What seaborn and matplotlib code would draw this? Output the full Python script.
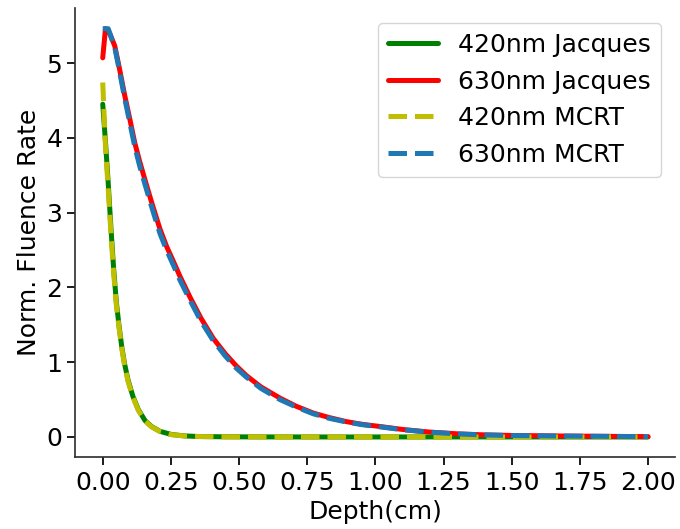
import numpy as np
import pandas as pd
import matplotlib
matplotlib.use("Agg")
import matplotlib.pyplot as plt
import seaborn as sns

# Normalised fluence rate vs depth, Jacques analytic model and MCRT simulation
depth_420_jacques = [0.000, 0.010, 0.020, 0.030, 0.040, 0.050, 0.060, 0.070, 0.080, 0.093,
                     0.110, 0.130, 0.155, 0.179, 0.210, 0.252, 0.300, 0.350, 0.450, 0.600,
                     0.800, 1.200, 1.600, 2.000]
fluence_420_jacques = [4.45, 3.95, 3.40, 2.80, 2.25, 1.80, 1.48, 1.20, 0.98, 0.76,
                       0.55, 0.37, 0.22, 0.14, 0.075, 0.033, 0.014, 0.006, 0.002, 0.0005,
                       0.0, 0.0, 0.0, 0.0]

depth_630_jacques = [0.000, 0.010, 0.025, 0.044, 0.060, 0.081, 0.100, 0.117, 0.135, 0.154,
                     0.175, 0.191, 0.210, 0.234, 0.260, 0.283, 0.320, 0.360, 0.405, 0.450,
                     0.490, 0.527, 0.580, 0.650, 0.710, 0.772, 0.830, 0.894, 0.950, 1.017,
                     1.100, 1.200, 1.310, 1.400, 1.500, 1.680, 1.850, 2.000]
fluence_630_jacques = [5.07, 5.46, 5.40, 5.23, 4.95, 4.56, 4.24, 3.94, 3.69, 3.45,
                       3.19, 3.00, 2.78, 2.55, 2.34, 2.15, 1.87, 1.59, 1.32, 1.11,
                       0.95, 0.82, 0.67, 0.52, 0.41, 0.32, 0.26, 0.205, 0.17, 0.14,
                       0.10, 0.065, 0.040, 0.028, 0.020, 0.013, 0.008, 0.004]

depth_420_mcrt = [0.000, 0.010, 0.020, 0.030, 0.040, 0.050, 0.060, 0.070, 0.080, 0.093,
                  0.110, 0.130, 0.155, 0.179, 0.210, 0.252, 0.300, 0.350, 0.450, 0.600,
                  0.800, 1.200, 1.600, 2.000]
fluence_420_mcrt = [4.74, 3.88, 3.32, 2.72, 2.19, 1.76, 1.45, 1.18, 0.96, 0.74,
                    0.54, 0.36, 0.215, 0.135, 0.072, 0.031, 0.013, 0.006, 0.002, 0.0005,
                    0.0, 0.0, 0.0, 0.0]

depth_630_mcrt = [0.000, 0.020, 0.044, 0.060, 0.081, 0.100, 0.117, 0.135, 0.154, 0.175,
                  0.191, 0.210, 0.234, 0.260, 0.283, 0.320, 0.360, 0.405, 0.450, 0.490,
                  0.527, 0.580, 0.650, 0.710, 0.772, 0.830, 0.894, 0.950, 1.017, 1.100,
                  1.200, 1.310, 1.400, 1.500, 1.680, 1.850, 2.000]
fluence_630_mcrt = [5.46, 5.46, 5.21, 4.92, 4.52, 4.19, 3.89, 3.63, 3.39, 3.13,
                    2.94, 2.72, 2.50, 2.29, 2.10, 1.83, 1.55, 1.29, 1.08, 0.92,
                    0.80, 0.65, 0.50, 0.40, 0.31, 0.25, 0.20, 0.165, 0.135, 0.097,
                    0.063, 0.039, 0.027, 0.019, 0.012, 0.008, 0.004]

sns.set_theme(style="ticks", context="notebook", color_codes=False)
plt.rcParams.update({
    "font.family": ["DejaVu Sans"],
    "text.color": "black",
    "axes.labelcolor": "black",
    "xtick.color": "black",
    "ytick.color": "black",
    "axes.edgecolor": "#333333",
})

fig = plt.figure(figsize=(6.8, 5.29), dpi=100)
ax = fig.add_axes([0.111, 0.1354, 0.882, 0.849])

lw = 3.6
series = [
    (depth_420_jacques, fluence_420_jacques, "#008000", "-", "420nm Jacques"),
    (depth_630_jacques, fluence_630_jacques, "#ff0000", "-", "630nm Jacques"),
    (depth_420_mcrt, fluence_420_mcrt, "#bfbf00", "--", "420nm MCRT"),
    (depth_630_mcrt, fluence_630_mcrt, "#1f77b4", "--", "630nm MCRT"),
]
for d, f, c, ls, lab in series:
    df = pd.DataFrame({"Depth": d, "Fluence": f})
    sns.lineplot(data=df, x="Depth", y="Fluence", color=c, linestyle=ls,
                 linewidth=lw, label=lab, sort=False, estimator=None, ax=ax)

fs = 18
ax.set_xticks(np.arange(0, 2.01, 0.25))
ax.set_xlabel("Depth(cm)", fontsize=fs)
ax.set_ylabel("Norm. Fluence Rate", fontsize=fs)
ax.tick_params(labelsize=fs)
sns.despine(ax=ax)

leg = ax.legend(fontsize=fs, loc="upper right", bbox_to_anchor=(661 / 680, 1 - 23 / 529),
                bbox_transform=fig.transFigure, borderaxespad=0, frameon=True)

fig.savefig("out.png", dpi=100)
